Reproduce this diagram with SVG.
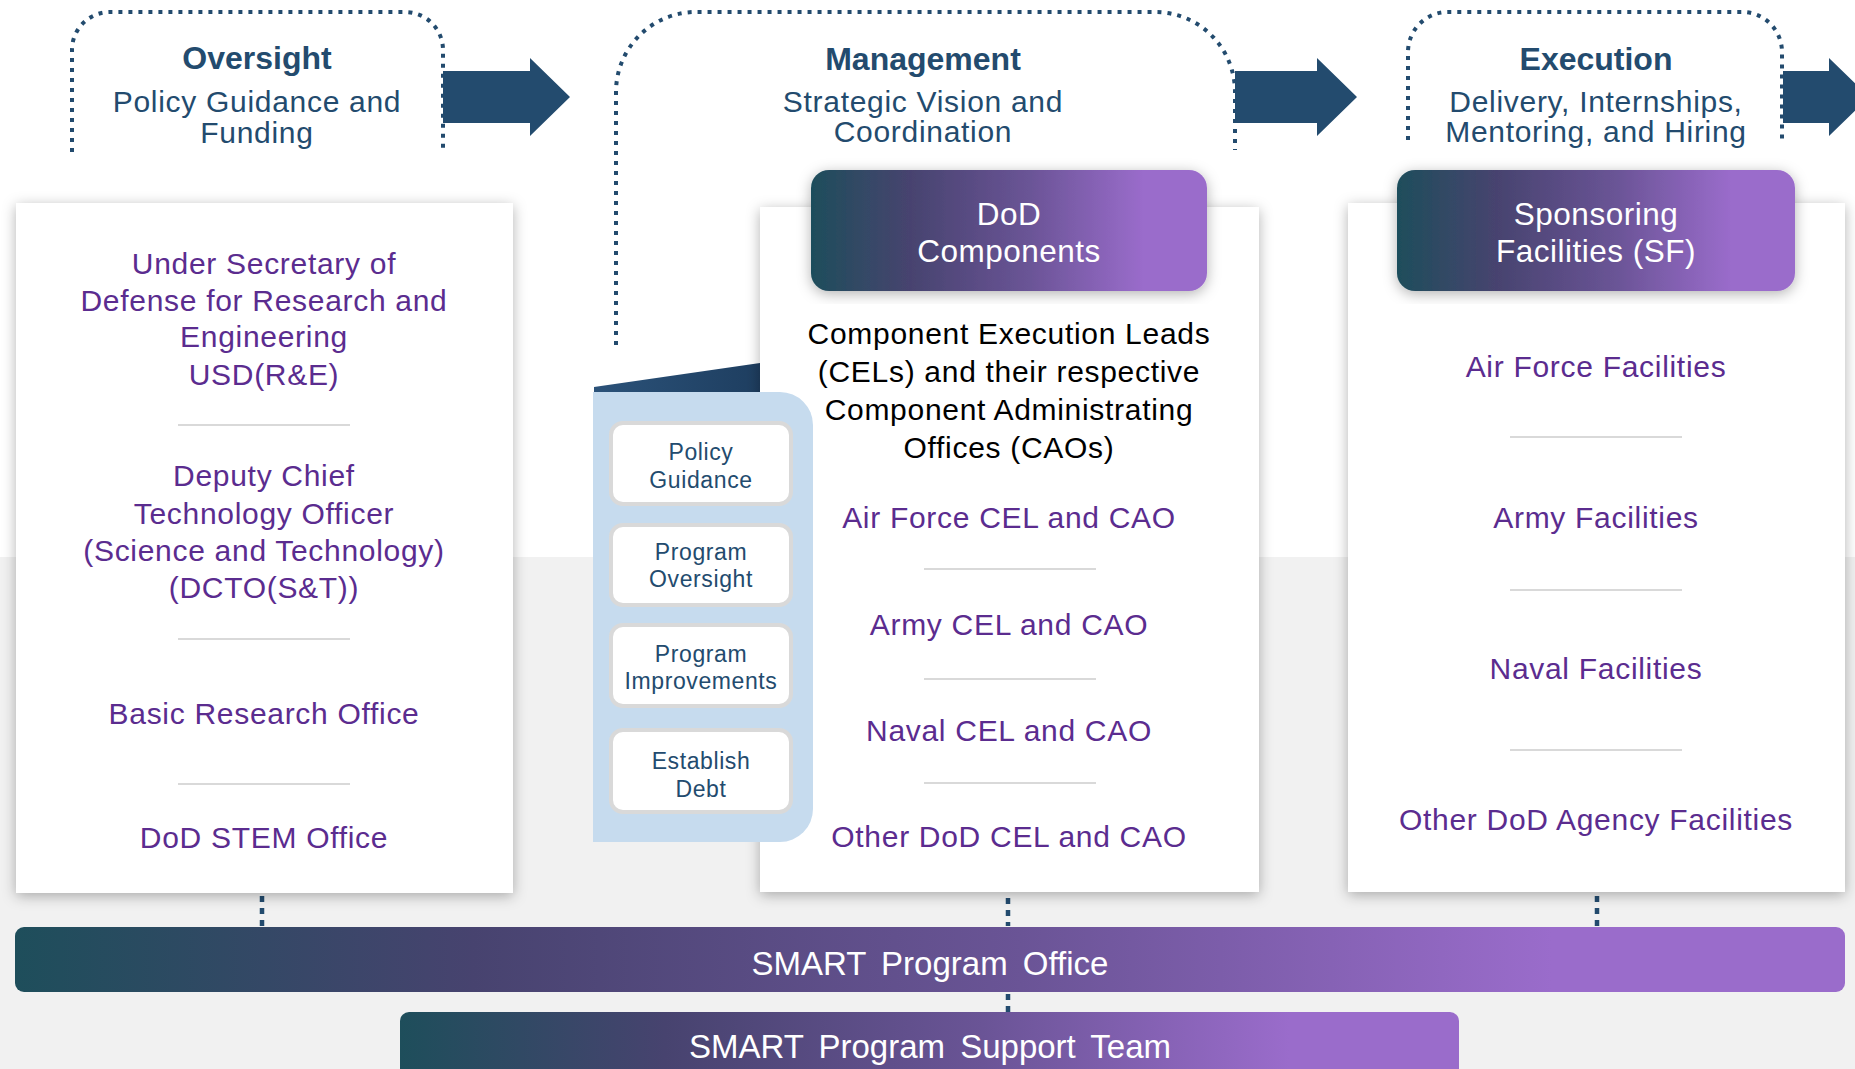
<svg xmlns="http://www.w3.org/2000/svg" width="1855" height="1069" viewBox="0 0 1855 1069">
  <defs>
    <linearGradient id="bandGrad" x1="0" y1="0" x2="1" y2="0">
      <stop offset="0" stop-color="#1E4E5B"/>
      <stop offset="0.25" stop-color="#47436F"/>
      <stop offset="0.55" stop-color="#6A5496"/>
      <stop offset="0.84" stop-color="#9A6CCB"/>
      <stop offset="1" stop-color="#9A6CCB"/>
    </linearGradient>
    <linearGradient id="wedgeGrad" x1="0" y1="0" x2="1" y2="0">
      <stop offset="0" stop-color="#2B5279"/>
      <stop offset="1" stop-color="#1E3E60"/>
    </linearGradient>
    <filter id="shadow" x="-10%" y="-10%" width="120%" height="120%">
      <feDropShadow dx="0" dy="3" stdDeviation="7" flood-color="#000" flood-opacity="0.3"/>
    </filter>
    <style>
      .frame { fill: none; stroke: #234B6E; stroke-width: 4; stroke-dasharray: 4 6; }
      .flow { fill: #234B6E; }
      .link { stroke: #234B6E; stroke-width: 4.5; stroke-dasharray: 6 6; }
      .card { fill: #FFFFFF; filter: url(#shadow); }
      .band { fill: url(#bandGrad); }
      .sep { stroke: #D9D9D9; stroke-width: 2; }
      .head { font-family: "Liberation Sans", Arial, sans-serif; font-weight: bold; font-size: 32px; fill: #234B6E; text-anchor: middle; }
      .sub { font-family: "Liberation Sans", Arial, sans-serif; font-size: 30px; letter-spacing: 0.7px; fill: #234B6E; text-anchor: middle; }
      .item { font-family: "Liberation Sans", Arial, sans-serif; font-size: 30px; letter-spacing: 0.7px; fill: #5B2C8F; text-anchor: middle; }
      .desc { font-family: "Liberation Sans", Arial, sans-serif; font-size: 30px; letter-spacing: 0.7px; fill: #000000; text-anchor: middle; }
      .title { font-family: "Liberation Sans", Arial, sans-serif; font-size: 31.5px; letter-spacing: 0.5px; fill: #FFFFFF; text-anchor: middle; }
      .bar { font-family: "Liberation Sans", Arial, sans-serif; font-size: 33px; word-spacing: 6px; fill: #FFFFFF; text-anchor: middle; }
      .chip { fill: #FFFFFF; stroke: #D9D9D9; stroke-width: 4; }
      .chipText { font-family: "Liberation Sans", Arial, sans-serif; font-size: 23px; letter-spacing: 0.6px; fill: #234B6E; text-anchor: middle; }
    </style>
  </defs>

  <!-- page background: white top, light grey lower band -->
  <rect x="0" y="0" width="1855" height="1069" fill="#FFFFFF"/>
  <rect x="0" y="557" width="1855" height="512" fill="#F1F1F1"/>

  <!-- phase frames (dotted, open at the bottom) -->
  <g id="phase-frames">
    <path class="frame" d="M72,152 V50 A38,38 0 0 1 110,12 H405 A38,38 0 0 1 443,50 V152"/>
    <path class="frame" d="M616,345 V92 A80,80 0 0 1 696,12 H1155 A80,80 0 0 1 1235,92 V150"/>
    <path class="frame" d="M1408,140 V52 A40,40 0 0 1 1448,12 H1742 A40,40 0 0 1 1782,52 V140"/>
  </g>

  <!-- phase headings -->
  <g id="oversight-heading">
    <text class="head" x="257" y="69">Oversight</text>
    <text class="sub" x="257" y="112">Policy Guidance and</text>
    <text class="sub" x="257" y="143">Funding</text>
  </g>
  <g id="management-heading">
    <text class="head" x="923" y="70">Management</text>
    <text class="sub" x="923" y="112">Strategic Vision and</text>
    <text class="sub" x="923" y="142">Coordination</text>
  </g>
  <g id="execution-heading">
    <text class="head" x="1596" y="70">Execution</text>
    <text class="sub" x="1596" y="112">Delivery, Internships,</text>
    <text class="sub" x="1596" y="142">Mentoring, and Hiring</text>
  </g>

  <!-- connectors: flow arrows and dashed links -->
  <g id="connectors">
    <polygon class="flow" points="443,71 530,71 530,58 570,97 530,136 530,123 443,123"/>
    <polygon class="flow" points="1235,71 1317,71 1317,58 1357,97 1317,136 1317,123 1235,123"/>
    <polygon class="flow" points="1783,71 1829,71 1829,58 1869,97 1829,136 1829,123 1783,123"/>
    <line class="link" x1="262" y1="896" x2="262" y2="926"/>
    <line class="link" x1="1008" y1="898" x2="1008" y2="926"/>
    <line class="link" x1="1597" y1="896" x2="1597" y2="926"/>
    <line class="link" x1="1008" y1="994" x2="1008" y2="1012"/>
  </g>

  <!-- Oversight column -->
  <g id="oversight-box">
    <rect class="card" x="16" y="203" width="497" height="690"/>
    <text class="item" x="264" y="274">Under Secretary of</text>
    <text class="item" x="264" y="311">Defense for Research and</text>
    <text class="item" x="264" y="347">Engineering</text>
    <text class="item" x="264" y="385">USD(R&amp;E)</text>
    <line class="sep" x1="178" y1="425" x2="350" y2="425"/>
    <text class="item" x="264" y="486">Deputy Chief</text>
    <text class="item" x="264" y="524">Technology Officer</text>
    <text class="item" x="264" y="561">(Science and Technology)</text>
    <text class="item" x="264" y="598">(DCTO(S&amp;T))</text>
    <line class="sep" x1="178" y1="639" x2="350" y2="639"/>
    <text class="item" x="264" y="724">Basic Research Office</text>
    <line class="sep" x1="178" y1="784" x2="350" y2="784"/>
    <text class="item" x="264" y="848">DoD STEM Office</text>
  </g>

  <!-- folded tab behind the Management column -->
  <polygon id="management-tab" points="594,387 760,363 760,392 594,392" fill="url(#wedgeGrad)"/>

  <!-- Management column -->
  <g id="management-box">
    <rect class="card" x="760" y="207" width="499" height="685"/>
    <text class="desc" x="1009" y="344">Component Execution Leads</text>
    <text class="desc" x="1009" y="382">(CELs) and their respective</text>
    <text class="desc" x="1009" y="420">Component Administrating</text>
    <text class="desc" x="1009" y="458">Offices (CAOs)</text>
    <text class="item" x="1009" y="528">Air Force CEL and CAO</text>
    <line class="sep" x1="924" y1="569" x2="1096" y2="569"/>
    <text class="item" x="1009" y="635">Army CEL and CAO</text>
    <line class="sep" x1="924" y1="679" x2="1096" y2="679"/>
    <text class="item" x="1009" y="741">Naval CEL and CAO</text>
    <line class="sep" x1="924" y1="783" x2="1096" y2="783"/>
    <text class="item" x="1009" y="847">Other DoD CEL and CAO</text>
  </g>

  <g id="dod-components">
    <rect class="band" x="811" y="170" width="396" height="121" rx="18" filter="url(#shadow)"/>
    <text class="title" x="1009" y="225">DoD</text>
    <text class="title" x="1009" y="262">Components</text>
  </g>

  <!-- management responsibilities panel -->
  <g id="responsibilities">
    <path d="M593,392 H780 A33,33 0 0 1 813,425 V809 A33,33 0 0 1 780,842 H593 Z" fill="#C6DBEE"/>
    <g id="policy-guidance">
      <rect class="chip" x="611" y="423" width="180" height="81" rx="12"/>
      <text class="chipText" x="701" y="460">Policy</text>
      <text class="chipText" x="701" y="488">Guidance</text>
    </g>
    <g id="program-oversight">
      <rect class="chip" x="611" y="525" width="180" height="80" rx="12"/>
      <text class="chipText" x="701" y="560">Program</text>
      <text class="chipText" x="701" y="587">Oversight</text>
    </g>
    <g id="program-improvements">
      <rect class="chip" x="611" y="625" width="180" height="81" rx="12"/>
      <text class="chipText" x="701" y="662">Program</text>
      <text class="chipText" x="701" y="689">Improvements</text>
    </g>
    <g id="establish-debt">
      <rect class="chip" x="611" y="730" width="180" height="82" rx="12"/>
      <text class="chipText" x="701" y="769">Establish</text>
      <text class="chipText" x="701" y="797">Debt</text>
    </g>
  </g>

  <!-- Execution column -->
  <g id="execution-box">
    <rect class="card" x="1348" y="203" width="497" height="689"/>
    <text class="item" x="1596" y="377">Air Force Facilities</text>
    <line class="sep" x1="1510" y1="437" x2="1682" y2="437"/>
    <text class="item" x="1596" y="528">Army Facilities</text>
    <line class="sep" x1="1510" y1="590" x2="1682" y2="590"/>
    <text class="item" x="1596" y="679">Naval Facilities</text>
    <line class="sep" x1="1510" y1="750" x2="1682" y2="750"/>
    <text class="item" x="1596" y="830">Other DoD Agency Facilities</text>
  </g>

  <g id="sponsoring-facilities">
    <rect class="band" x="1397" y="170" width="398" height="121" rx="18" filter="url(#shadow)"/>
    <text class="title" x="1596" y="225">Sponsoring</text>
    <text class="title" x="1596" y="262">Facilities (SF)</text>
  </g>

  <!-- program office bands -->
  <g id="smart-program-office">
    <rect class="band" x="15" y="927" width="1830" height="65" rx="9"/>
    <text class="bar" x="930" y="975">SMART Program Office</text>
  </g>
  <g id="smart-support-team">
    <rect class="band" x="400" y="1012" width="1059" height="80" rx="9"/>
    <text class="bar" x="930" y="1058">SMART Program Support Team</text>
  </g>
</svg>
